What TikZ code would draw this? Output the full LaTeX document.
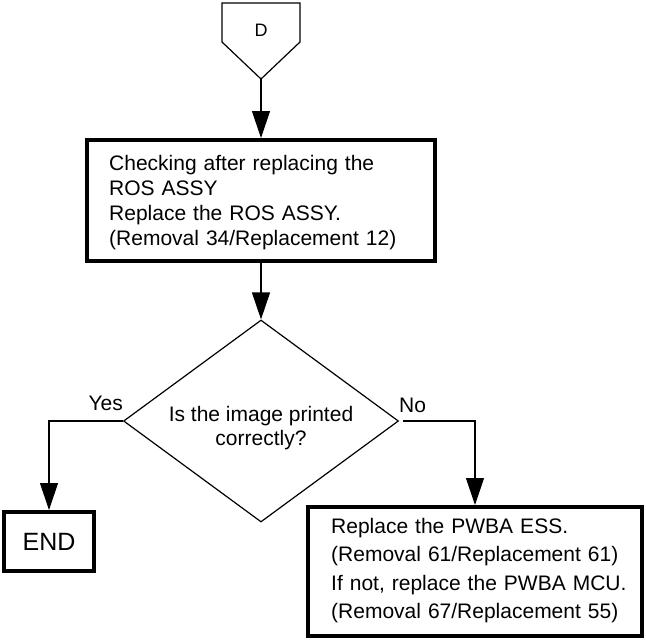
\documentclass[tikz,border=0pt]{standalone}
\usepackage{fontspec}
\setmainfont{Liberation Sans}
\usetikzlibrary{shapes.geometric,arrows.meta}
\begin{document}
\begin{tikzpicture}[x=1pt,y=-1pt,
  thinline/.style={line width=1.2pt},
  arr/.style={line width=1.2pt,-{Triangle[length=27pt,width=18pt]}},
  boxstyle/.style={draw,line width=4pt,rectangle,inner sep=0pt},
  txt/.style={font=\fontsize{21}{25}\selectfont}]
\useasboundingbox (0,0) rectangle (646,643);
% off-page connector D
\draw[thinline] (222,3) -- (300,3) -- (300,42) -- (261,79) -- (222,42) -- cycle;
\node[font=\fontsize{18}{20}\selectfont,inner sep=0pt] (dlabel) at (261,30.5) {D};
\coordinate (dtip) at (261,79);
% first process box
\node[boxstyle,minimum width=348pt,minimum height=121pt] (box1) at (261,200.5) {};
\node[font=\fontsize{21}{25}\selectfont,text width=320pt,align=left,inner sep=0pt,anchor=west]
  (box1text) at (109,203) {Checking after replacing the\\ROS ASSY\\Replace the ROS ASSY.\\(Removal 34/Replacement 12)};
% decision
\node[draw,thinline,diamond,inner sep=0pt,minimum width=275pt,minimum height=202pt] (dia) at (261,421) {};
\node[font=\fontsize{21}{23.5}\selectfont,align=center,inner sep=0pt] (diatext) at (261,428)
  {Is the image printed\\correctly?};
% END box
\node[boxstyle,minimum width=90pt,minimum height=59pt,font=\fontsize{25}{28}\selectfont] (endb) at (49,541.5) {END};
% right box
\node[boxstyle,minimum width=334pt,minimum height=129pt] (box2) at (475,571.5) {};
\node[font=\fontsize{21}{28.3}\selectfont,text width=305pt,align=left,inner sep=0pt,anchor=west]
  (box2text) at (331,570.5)
  {Replace the PWBA ESS.\\(Removal 61/Replacement 61)\\If not, replace the PWBA MCU.\\(Removal 67/Replacement 55)};
% labels
\node[txt,anchor=base east,inner sep=0pt] (yes) at (123,410) {Yes};
\node[txt,anchor=base west,inner sep=0pt] (no) at (399,412) {No};
% connectors
\coordinate (noStart) at (403,421);
\draw[arr] (dtip) -- (box1.north);
\draw[arr] (box1.south) -- (dia.north);
\draw[arr] (dia.west) -| (endb.north);
\draw[arr] (noStart) -| (box2.north);
\end{tikzpicture}
\end{document}
